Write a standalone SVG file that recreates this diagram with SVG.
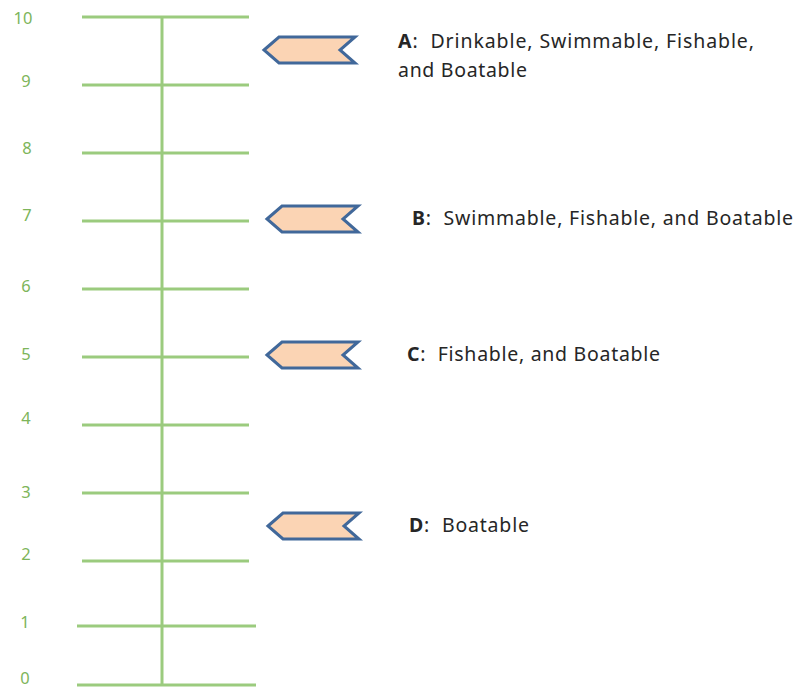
<svg xmlns="http://www.w3.org/2000/svg" width="796" height="688" viewBox="0 0 796 688">
<style>
.tick{stroke:#9BCB7E;stroke-width:3;fill:none}
.num{font-family:"Noto Sans","Open Sans",sans-serif;font-size:16.5px;fill:#7DB55A;text-anchor:middle}
.flag{fill:#FBD4B4;stroke:#41689A;stroke-width:3;stroke-linejoin:miter}
.lbl{font-family:"Noto Sans","Open Sans",sans-serif;font-size:19.5px;fill:#262626;white-space:pre}
.b{font-weight:bold}
</style>
<defs>
<polygon id="flagShape" class="flag" points="-79,0 -64,-13 12,-13 -3,0 12,13 -64,13"/>
</defs>
<rect width="796" height="688" fill="#fff"/>
<g id="scale">
<line class="tick" x1="162" y1="17" x2="162" y2="685"/>
<line class="tick" x1="82" y1="17" x2="249" y2="17"/>
<line class="tick" x1="82" y1="85" x2="249" y2="85"/>
<line class="tick" x1="82" y1="153" x2="249" y2="153"/>
<line class="tick" x1="82" y1="221" x2="249" y2="221"/>
<line class="tick" x1="82" y1="289" x2="249" y2="289"/>
<line class="tick" x1="82" y1="357" x2="249" y2="357"/>
<line class="tick" x1="82" y1="425" x2="249" y2="425"/>
<line class="tick" x1="82" y1="493" x2="249" y2="493"/>
<line class="tick" x1="82" y1="561" x2="249" y2="561"/>
<line class="tick" x1="77" y1="626" x2="256" y2="626"/>
<line class="tick" x1="77" y1="685" x2="256" y2="685"/>
<text class="num" x="23" y="24">10</text>
<text class="num" x="26" y="87">9</text>
<text class="num" x="27" y="154">8</text>
<text class="num" x="27" y="221">7</text>
<text class="num" x="26" y="292">6</text>
<text class="num" x="26" y="360">5</text>
<text class="num" x="26" y="424">4</text>
<text class="num" x="26" y="498">3</text>
<text class="num" x="26" y="560">2</text>
<text class="num" x="25" y="628">1</text>
<text class="num" x="25" y="684">0</text>
</g>
<g id="nodeA">
<use href="#flagShape" x="343" y="50"/>
<text class="lbl" x="398" y="48" xml:space="preserve" textLength="356" lengthAdjust="spacing"><tspan class="b">A</tspan>:  Drinkable, Swimmable, Fishable,</text>
<text class="lbl" x="398" y="77" textLength="129" lengthAdjust="spacing">and Boatable</text>
</g>
<g id="nodeB">
<use href="#flagShape" x="346" y="219"/>
<text class="lbl" x="412" y="225" xml:space="preserve" textLength="381" lengthAdjust="spacing"><tspan class="b">B</tspan>:  Swimmable, Fishable, and Boatable</text>
</g>
<g id="nodeC">
<use href="#flagShape" x="346" y="355"/>
<text class="lbl" x="407" y="361" xml:space="preserve" textLength="253" lengthAdjust="spacing"><tspan class="b">C</tspan>:  Fishable, and Boatable</text>
</g>
<g id="nodeD">
<use href="#flagShape" x="347" y="526"/>
<text class="lbl" x="409" y="532" xml:space="preserve" textLength="120" lengthAdjust="spacing"><tspan class="b">D</tspan>:  Boatable</text>
</g>
<g id="connectors"></g>
</svg>
